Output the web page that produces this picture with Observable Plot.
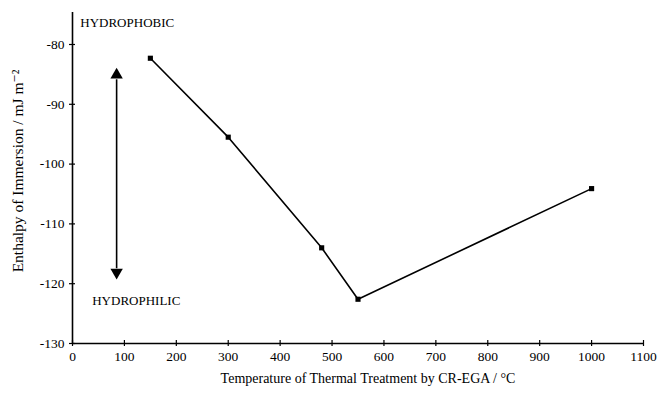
<!DOCTYPE html>
<html>
<head>
<meta charset="utf-8">
<script src="https://cdn.jsdelivr.net/npm/d3@7"></script>
<script src="https://cdn.jsdelivr.net/npm/@observablehq/plot@0.6"></script>
<style>
  html, body { margin: 0; padding: 0; background: #fff; }
  svg { display: block; }
</style>
</head>
<body>
<div id="chart"></div>
<script>
const temperatures = [150, 300, 480, 550, 1000];
const enthalpies = [-82.3, -95.5, -114.0, -122.6, -104.1];
const xTicks = [0, 100, 200, 300, 400, 500, 600, 700, 800, 900, 1000, 1100];
const yTicks = [-80, -90, -100, -110, -120, -130];
const xTitle = "Temperature of Thermal Treatment by CR-EGA / °C";
const yTitle = "Enthalpy of Immersion / mJ m\u207B\u00B2";
const annotations = [
  {label: "HYDROPHOBIC", x: 15, y: -76.3},
  {label: "HYDROPHILIC", x: 38, y: -122.8}
];
const arrowX = 85;
const arrowTop = -85.9, arrowBottom = -117.5;
const headTop = -85.07, headBottom = -118.1;

const data = temperatures.map((t, i) => ({t, e: enthalpies[i]}));

const chart = Plot.plot({
  width: 659,
  height: 398,
  marginLeft: 72,
  marginRight: 16,
  marginTop: 12,
  marginBottom: 55,
  style: {fontFamily: "'Liberation Serif', 'DejaVu Serif', serif", fontSize: "13.5px", color: "#000", background: "#fff"},
  x: {domain: [0, 1100]},
  y: {domain: [-130, -74.65]},
  marks: [
    Plot.axisY({ticks: yTicks, tickSize: 3, tickPadding: 5, label: null, tickFormat: d => String(d), strokeWidth: 1.2}),
    Plot.axisY({ticks: yTicks, tickSize: -3, text: null, label: null, strokeWidth: 1.2}),
    Plot.axisX({ticks: xTicks, tickSize: 3, tickPadding: 5, label: null, tickFormat: d => String(d), strokeWidth: 1.2}),
    Plot.axisX({ticks: xTicks, tickSize: -3, text: null, label: null, strokeWidth: 1.2}),
    Plot.ruleX([0], {strokeWidth: 1.6}),
    Plot.ruleY([-130], {strokeWidth: 1.6}),
    Plot.line(data, {x: "t", y: "e", stroke: "#000", strokeWidth: 1.6}),
    Plot.dot(data, {x: "t", y: "e", symbol: "square", r: 2.9, fill: "#000", stroke: "none"}),
    Plot.ruleX([arrowX], {y1: arrowTop, y2: arrowBottom, strokeWidth: 1.6}),
    Plot.dot([{x: arrowX, y: headTop}], {x: "x", y: "y", symbol: "triangle", r: 4.6, fill: "#000", stroke: "none"}),
    Plot.dot([{x: arrowX, y: headBottom}], {x: "x", y: "y", symbol: "triangle", r: 4.6, fill: "#000", stroke: "none", rotate: 180}),
    Plot.text(annotations, {x: "x", y: "y", text: "label", textAnchor: "start", fontSize: 13}),
    Plot.text([xTitle], {frameAnchor: "bottom", dy: 39, dx: 10, fontSize: 14}),
    Plot.text([yTitle], {frameAnchor: "left", textAnchor: "middle", rotate: -90, dx: -54, dy: -7, fontSize: 15.5})
  ]
});
document.getElementById("chart").appendChild(chart);
</script>
</body>
</html>
